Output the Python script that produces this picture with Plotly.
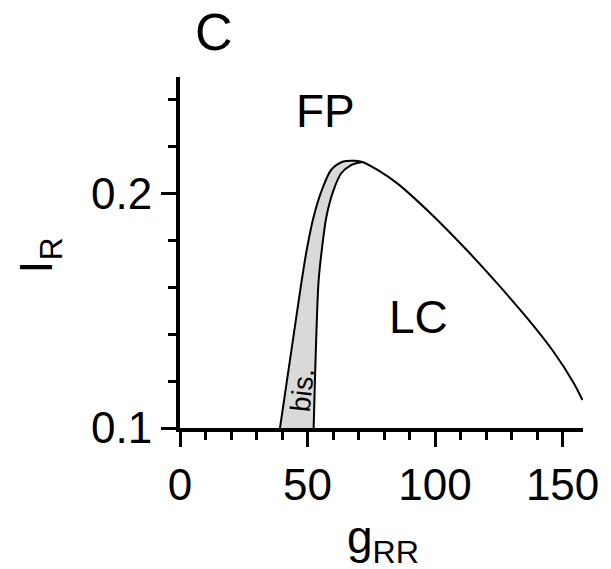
import plotly.graph_objects as go

# Outer boundary (left branch rising to the peak, then the long descending branch)
outer_g = [39.2, 43.4, 47.6, 49.7, 52.4, 55.5, 59.3, 64.0, 68.6, 71.5, 77.6, 85.3, 99.6, 112.5, 124.1, 135.8, 146.1, 154.4, 157.8]
outer_I = [0.100, 0.131, 0.162, 0.176, 0.190, 0.201, 0.210, 0.2135, 0.2138, 0.2133, 0.2098, 0.2041, 0.190, 0.1757, 0.1619, 0.1472, 0.1330, 0.1191, 0.1119]
# Inner boundary of the bistable region
inner_g = [52.4, 54.3, 55.6, 57.4, 60.1, 63.2, 67.1, 71.5]
inner_I = [0.100, 0.162, 0.176, 0.190, 0.201, 0.2085, 0.212, 0.2133]

n_left = 10  # points of outer curve belonging to the bistable band

FONT = "Liberation Sans, Arial, sans-serif"
W, H = 611, 569
L, R, T, B = 180, 24, 77, 141
PW, PH = W - L - R, H - T - B

fig = go.Figure()

# Gray bistable band
band_x = outer_g[:n_left] + inner_g[::-1]
band_y = outer_I[:n_left] + inner_I[::-1]
fig.add_trace(go.Scatter(x=band_x, y=band_y, fill="toself", fillcolor="#d9d9d9",
                         line=dict(width=0, shape="spline", smoothing=0.8), mode="lines",
                         hoverinfo="skip", showlegend=False))
fig.add_trace(go.Scatter(x=outer_g, y=outer_I, mode="lines",
                         line=dict(color="black", width=2, shape="spline", smoothing=0.8),
                         showlegend=False))
fig.add_trace(go.Scatter(x=inner_g, y=inner_I, mode="lines",
                         line=dict(color="black", width=2, shape="spline", smoothing=0.8),
                         showlegend=False))

fig.update_layout(
    width=W, height=H,
    margin=dict(l=L, r=R, t=T, b=B),
    paper_bgcolor="white", plot_bgcolor="white",
    font=dict(family=FONT, color="black", size=44),
    xaxis=dict(range=[0, 158], showgrid=False, zeroline=False,
               showline=True, linecolor="black", linewidth=4,
               ticks="outside", ticklen=15, tickwidth=3, tickcolor="black",
               tickvals=[0, 50, 100, 150], ticktext=["0", "50", "100", "150"],
               tickfont=dict(size=44, family=FONT),
               minor=dict(dtick=10, tick0=0, ticks="outside", ticklen=8, tickwidth=3, tickcolor="black")),
    yaxis=dict(range=[0.1, 0.2495], showgrid=False, zeroline=False,
               showline=True, linecolor="black", linewidth=4,
               ticks="outside", ticklen=15, tickwidth=3, tickcolor="black",
               tickvals=[0.1, 0.2], ticktext=["0.1", "0.2"],
               tickfont=dict(size=44, family=FONT),
               minor=dict(dtick=0.02, tick0=0.1, ticks="outside", ticklen=8, tickwidth=3, tickcolor="black")),
)

def px(xp, yp):
    return (xp - L) / PW, (H - B - yp) / PH

def ann(text, pos, size, angle=0):
    x, y = px(*pos)
    fig.add_annotation(text=text, x=x, y=y, xref="paper", yref="paper", showarrow=False,
                       textangle=angle, font=dict(size=size, family=FONT, color="black"),
                       xanchor="center", yanchor="middle")

ann("C", (214, 32), 52)
ann("FP", (327, 111), 46)
ann("LC", (421, 317), 46)
ann("bis.", (303, 390), 28, angle=-84)
ann("g<sub>RR</sub>", (385, 540), 46)
ann("I<sub>R</sub>", (38, 255), 46, angle=-90)

fig.write_html("out.html")
